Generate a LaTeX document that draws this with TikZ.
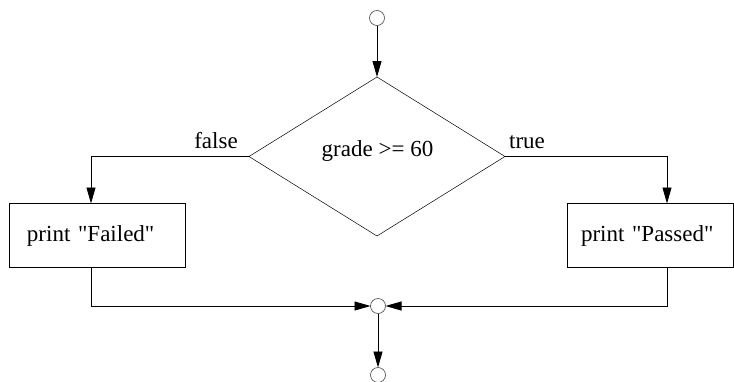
\documentclass[tikz,border=0pt]{standalone}
\usepackage{fontspec}
\setmainfont{Liberation Serif}
\usetikzlibrary{shapes.geometric,arrows.meta}
\begin{document}
\begin{tikzpicture}[x=1pt,y=-1pt,
  every node/.style={font=\fontsize{23}{27}\selectfont},
  conn/.style={line width=0.9pt,-{Triangle[length=16pt,width=9pt]}},
  dot/.style={circle,draw=black!65,line width=0.7pt,minimum size=15pt,inner sep=0pt,outer sep=0pt},
  decbox/.style={diamond,draw,line width=0.5pt,minimum width=256pt,minimum height=159pt,inner sep=0pt,outer sep=0pt},
  actbox/.style={rectangle,draw,line width=0.9pt,minimum height=64pt,align=left,outer sep=0pt},
  lbl/.style={inner sep=0pt,anchor=base}]
\useasboundingbox (0,0) rectangle (734,381);
\node[dot] (start) at (377,18) {};
\node[decbox] (dec) at (377,156.5) {};
\node at (377.5,151) {grade >= 60};
\node[actbox,text width=140pt,inner xsep=18pt] (fail) at (97,235.5) {print \textquotedbl Failed\textquotedbl};
\node[actbox,text width=138pt,inner xsep=14pt] (pass) at (650,235.5) {print \textquotedbl Passed\textquotedbl};
\node[dot] (merge) at (378,306) {};
\node[dot] (end) at (378,375) {};
\coordinate (fl) at (91,203.5);
\coordinate (pr) at (667,203.5);
\coordinate (flb) at (91,267.5);
\coordinate (prb) at (667,267.5);
\node[lbl] at (216,148) {false};
\node[lbl] at (527,148) {true};
\draw[conn] (start) -- (dec.north);
\draw[conn] (dec.west) -| (fl);
\draw[conn] (dec.east) -| (pr);
\draw[conn] (flb) |- (merge.west);
\draw[conn] (prb) |- (merge.east);
\draw[conn] (merge) -- (end);
\end{tikzpicture}
\end{document}
